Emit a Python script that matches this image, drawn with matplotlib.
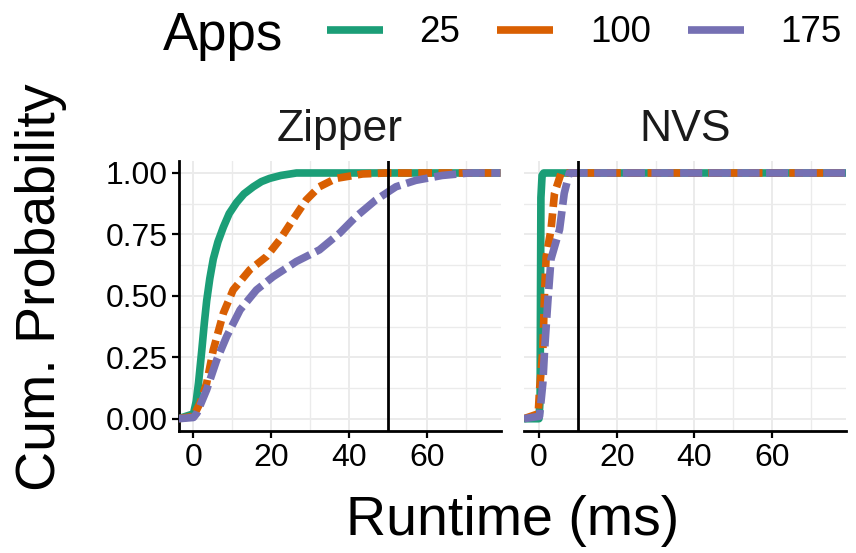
import matplotlib
matplotlib.use("Agg")
import matplotlib.pyplot as plt
from matplotlib.lines import Line2D

plt.rcParams['font.family'] = ['Liberation Sans', 'DejaVu Sans']

# ---------------- data ----------------
panels = ["Zipper", "NVS"]
apps = ["25", "100", "175"]
colors = ["#1b9e77", "#d95f02", "#7570b3"]
threshold = {"Zipper": 50, "NVS": 10}

# Zipper panel: runtime (ms) vs cumulative probability
zip25_x = [0.0, 0.7, 1.3, 2.15, 2.8, 3.4, 4.2, 5.1, 6.3, 7.7, 9.2, 11.1, 13.0, 15.4, 17.5, 19.6, 22.5, 26.5, 75.0]
zip25_y = [0.02, 0.07, 0.145, 0.28, 0.39, 0.48, 0.57, 0.65, 0.72, 0.78, 0.835, 0.88, 0.915, 0.944, 0.965, 0.978, 0.99, 1.0, 1.0]
zip100_x = [0.0, 1.7, 3.4, 5.1, 7.7, 10.2, 14.5, 18.8, 22.2, 25.6, 29.0, 32.4, 36.7, 43.5, 49.5, 75.0]
zip100_y = [0.01, 0.064, 0.145, 0.28, 0.43, 0.524, 0.606, 0.66, 0.728, 0.81, 0.89, 0.944, 0.978, 0.996, 1.0, 1.0]
zip175_x = [0.0, 0.9, 3.4, 6.0, 8.55, 12.0, 16.2, 20.5, 26.5, 32.4, 37.6, 41.8, 46.9, 52.1, 57.2, 64.0, 70.9, 75.3]
zip175_y = [0.005, 0.023, 0.118, 0.24, 0.335, 0.443, 0.524, 0.578, 0.64, 0.687, 0.755, 0.822, 0.89, 0.944, 0.97, 0.99, 1.0, 1.0]

# NVS panel
nvs25_x = [0.0, 0.3, 0.4, 0.5, 0.8, 1.2]
nvs25_y = [0.0, 0.08, 0.5, 0.9, 0.99, 1.0]
nvs100_x = [-0.2, 0.15, 1.0, 1.45, 1.86, 3.1, 4.0, 5.7]
nvs100_y = [0.02, 0.118, 0.28, 0.52, 0.66, 0.77, 0.917, 1.0]
nvs175_x = [0.15, 1.0, 1.45, 2.3, 3.1, 5.3, 6.5, 7.8]
nvs175_y = [0.01, 0.145, 0.28, 0.48, 0.65, 0.77, 0.917, 1.0]

series = {
    "Zipper": [(zip25_x, zip25_y), (zip100_x, zip100_y), (zip175_x, zip175_y)],
    "NVS": [(nvs25_x, nvs25_y), (nvs100_x, nvs100_y), (nvs175_x, nvs175_y)],
}

x_ticks = [0, 20, 40, 60]
x_minor = [10, 30, 50, 70]
y_ticks = [0.0, 0.25, 0.50, 0.75, 1.00]
y_tick_labels = ["0.00", "0.25", "0.50", "0.75", "1.00"]
y_minor = [0.125, 0.375, 0.625, 0.875]
xlim = (-3.85, 79.0)
ylim = (-0.05, 1.05)

styles = [dict(linestyle="-"),
          dict(dashes=(1.8, 0.85)),
          dict(dashes=(2.9, 0.85))]

# ---------------- figure ----------------
W, H = 856, 553
fig = plt.figure(figsize=(W / 100, H / 100), dpi=100)

def px_rect(left, top, right, bottom):
    return [left / W, 1 - bottom / H, (right - left) / W, (bottom - top) / H]

axL = fig.add_axes(px_rect(178.5, 160.7, 500.5, 431))
axR = fig.add_axes(px_rect(524, 160.7, 846, 431))

grid_c = "#ebebeb"
LW = 5.5
for ax, name in zip([axL, axR], panels):
    ax.set_xlim(*xlim)
    ax.set_ylim(*ylim)
    ax.set_xticks(x_ticks)
    ax.set_xticks(x_minor, minor=True)
    ax.set_yticks(y_ticks)
    ax.set_yticks(y_minor, minor=True)
    ax.grid(True, which="major", color=grid_c, lw=1.4, zorder=0)
    ax.grid(True, which="minor", color=grid_c, lw=1.0, zorder=0)
    ax.set_axisbelow(True)
    for s in ["top", "right"]:
        ax.spines[s].set_visible(False)
    ax.spines["bottom"].set_linewidth(2.0)
    ax.spines["left"].set_linewidth(2.0)
    ax.tick_params(axis="x", which="major", length=5, width=1.6, pad=4,
                   labelsize=23, colors="black")
    ax.tick_params(which="minor", length=0)
    for (xs, ys), c, st in zip(series[name], colors, styles):
        px = [xlim[0]] + list(xs) + [xlim[1]]
        py = [0.0] + list(ys) + [1.0]
        ax.plot(px, py, color=c, lw=LW, solid_capstyle="butt",
                dash_capstyle="butt", solid_joinstyle="round", zorder=3, **st)
    ax.axvline(threshold[name], color="black", lw=2.0, zorder=4)
    ax.text(0.5, (431 - 141) / (431 - 160.7), name, transform=ax.transAxes,
            ha="center", va="baseline", fontsize=32, color="#1a1a1a")

axL.set_yticklabels(y_tick_labels)
axL.tick_params(axis="y", which="major", length=5, width=1.6, pad=3,
                labelsize=23, colors="black")
axR.spines["left"].set_visible(False)
axR.tick_params(axis="y", which="both", length=0, labelleft=False)

fig.text(512.5 / W, 1 - 535 / H, "Runtime (ms)", ha="center", va="baseline",
         fontsize=40)
fig.text(41 / W, 1 - 287 / H, "Cum. Probability", ha="center", va="center",
         rotation=90, fontsize=40)

# legend
fig.text(163 / W, 1 - 50 / H, "Apps", ha="left", va="baseline", fontsize=38)
handles = [Line2D([], [], color=c, lw=LW, solid_capstyle="butt") for c in colors]
fig.legend(handles, apps, ncol=3, loc="center left",
           bbox_to_anchor=(326.7 / W, 1 - 33 / H), frameon=False,
           fontsize=26.5, handlelength=1.52, handletextpad=1.0,
           columnspacing=1.0, borderpad=0, borderaxespad=0)

fig.savefig("out.png", dpi=100)
